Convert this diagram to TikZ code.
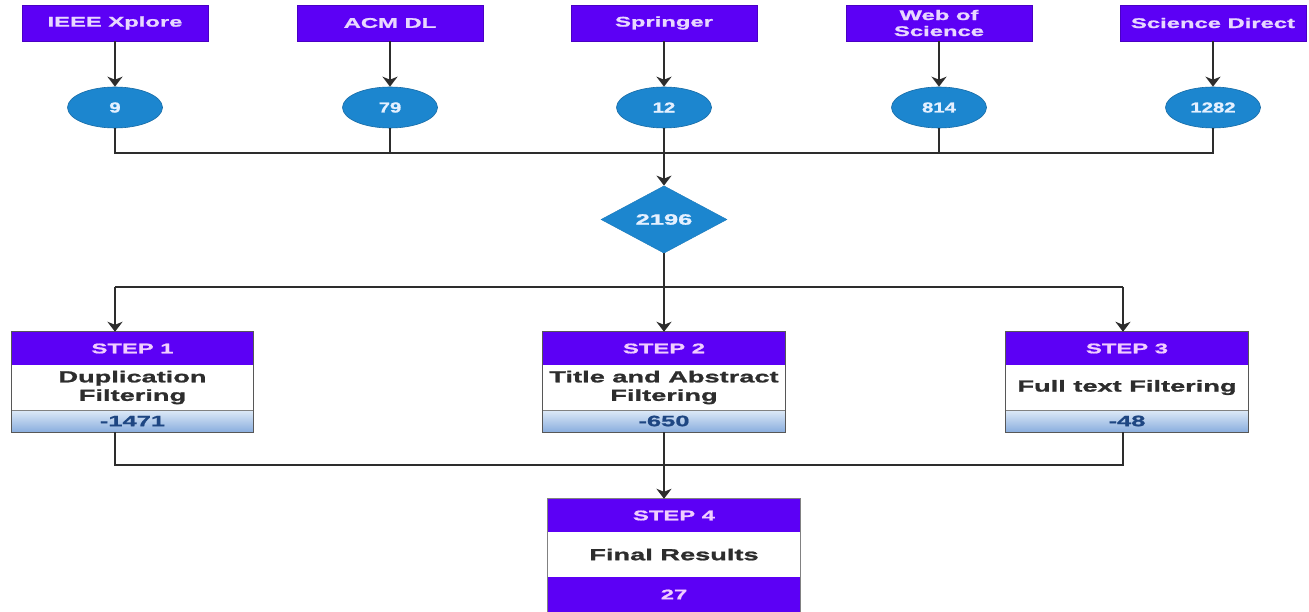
\documentclass[tikz,border=0pt]{standalone}
\usepackage{fontspec}
\setmainfont[FakeStretch=1.7,FakeBold=1.3]{Liberation Sans}
\newfontfamily\numfont[FakeStretch=1.4,FakeBold=1.3]{Liberation Sans}
\usetikzlibrary{shapes.geometric,arrows.meta}
\definecolor{hdr}{RGB}{92,0,245}
\definecolor{hdrtxt}{RGB}{240,205,255}
\definecolor{toptxt}{RGB}{232,215,255}
\definecolor{ell}{RGB}{28,134,207}
\definecolor{elltxt}{RGB}{228,240,255}
\definecolor{body}{RGB}{45,45,45}
\definecolor{gtop}{RGB}{222,234,248}
\definecolor{gbot}{RGB}{138,174,222}
\definecolor{foottxt}{RGB}{30,70,130}
\definecolor{ln}{RGB}{45,45,45}
\tikzset{
  srcbox/.style={fill=hdr, draw=hdr!80!black, line width=0.6pt, minimum width=186pt, minimum height=36pt, inner sep=0pt, text=toptxt, font=\fontsize{14}{16}\selectfont\bfseries, align=center},
  cnt/.style={ellipse, fill=ell, draw=ell!80!black, line width=0.6pt, minimum width=95pt, minimum height=41pt, inner sep=0pt, text=elltxt, font=\numfont\fontsize{14.5}{14.5}\selectfont\bfseries},
  tot/.style={diamond, fill=ell, draw=ell!90!black, minimum width=126pt, minimum height=65pt, inner sep=0pt, text=elltxt, font=\fontsize{15}{15}\selectfont\bfseries},
  stephead/.style={fill=hdr, draw=none, minimum height=33pt, inner sep=0pt, text=hdrtxt, font=\fontsize{14}{14}\selectfont\bfseries},
  stepbody/.style={fill=white, draw=none, minimum height=45pt, inner sep=0pt, text=body, font=\fontsize{16}{18.5}\selectfont\bfseries, align=center},
  stepfoot/.style={top color=gtop, bottom color=gbot, draw=none, minimum height=22pt, inner sep=0pt, text=foottxt, font=\fontsize{15}{15}\selectfont\bfseries},
  outline/.style={draw=ln!80, line width=1.2pt},
  conn/.style={draw=ln, line width=1.8pt},
  arr/.style={conn, -{Stealth[width=15pt,length=10pt,inset=3pt]}}
}
\begin{document}
\begin{tikzpicture}[x=1pt,y=-1pt]
\fill[white] (0,0) rectangle (1309,612);
\useasboundingbox (0,0) rectangle (1309,612);

% source boxes
\node[srcbox] (t1) at (115,23) {IEEE Xplore};
\node[srcbox] (t2) at (390,23) {ACM DL};
\node[srcbox] (t3) at (664,23) {Springer};
\node[srcbox] (t4) at (939,23) {Web of\\Science};
\node[srcbox] (t5) at (1213,23) {Science Direct};

% counts
\node[cnt] (e1) at (115,107.5) {9};
\node[cnt] (e2) at (390,107.5) {79};
\node[cnt] (e3) at (664,107.5) {12};
\node[cnt] (e4) at (939,107.5) {814};
\node[cnt] (e5) at (1213,107.5) {1282};

\foreach \i in {1,...,5} { \draw[arr] (t\i.south) -- (e\i.north); }

\node[tot] (d) at (664,219.5) {2196};

\coordinate (j1) at (664,153);
\draw[conn] (e1.south) -- (e1.south |- j1) -- (e5.south |- j1) -- (e5.south);
\draw[conn] (e2.south) -- (e2.south |- j1);
\draw[conn] (e4.south) -- (e4.south |- j1);
\draw[arr] (e3.south) -- (d.north);

% steps
\node[stephead, minimum width=241pt] (s1h) at (132.5,348.5) {STEP 1};
\node[stepbody, minimum width=241pt] (s1b) at (132.5,387.5) {Duplication\\Filtering};
\node[stepfoot, minimum width=241pt] (s1f) at (132.5,421) {-1471};
\draw[outline] (s1h.north west) rectangle (s1f.south east);
\draw[ln!60, line width=0.6pt] (s1b.south west) -- (s1b.south east);

\node[stephead, minimum width=242pt] (s2h) at (664,348.5) {STEP 2};
\node[stepbody, minimum width=242pt] (s2b) at (664,387.5) {Title and Abstract\\Filtering};
\node[stepfoot, minimum width=242pt] (s2f) at (664,421) {-650};
\draw[outline] (s2h.north west) rectangle (s2f.south east);
\draw[ln!60, line width=0.6pt] (s2b.south west) -- (s2b.south east);

\node[stephead, minimum width=242pt] (s3h) at (1127,348.5) {STEP 3};
\node[stepbody, minimum width=242pt] (s3b) at (1127,387.5) {Full text Filtering};
\node[stepfoot, minimum width=242pt] (s3f) at (1127,421) {-48};
\draw[outline] (s3h.north west) rectangle (s3f.south east);
\draw[ln!60, line width=0.6pt] (s3b.south west) -- (s3b.south east);

\node[stephead, minimum width=252pt] (s4h) at (674,515.5) {STEP 4};
\node[stepbody, minimum width=252pt] (s4b) at (674,554.5) {Final Results};
\node[stephead, minimum width=252pt, minimum height=35pt] (s4f) at (674,594.5) {27};
\draw[outline, draw=ln!60] (s4h.north west) rectangle (s4f.south east);

% diamond to steps
\coordinate (j2) at (664,287);
\coordinate (b1) at (115,287);
\coordinate (b3) at (1123,287);
\draw[conn] (d.south) -- (j2);
\draw[conn] (b1) -- (b3);
\draw[arr] (b1) -- (b1 |- s1h.north);
\draw[arr] (j2) -- (s2h.north);
\draw[arr] (b3) -- (b3 |- s3h.north);

% steps to final
\coordinate (c1) at (115,465);
\coordinate (c3) at (1123,465);
\draw[conn] (c1 |- s1f.south) -- (c1) -- (c3) -- (c3 |- s3f.south);
\draw[arr] (s2f.south) -- (s2f.south |- s4h.north);
\end{tikzpicture}
\end{document}
